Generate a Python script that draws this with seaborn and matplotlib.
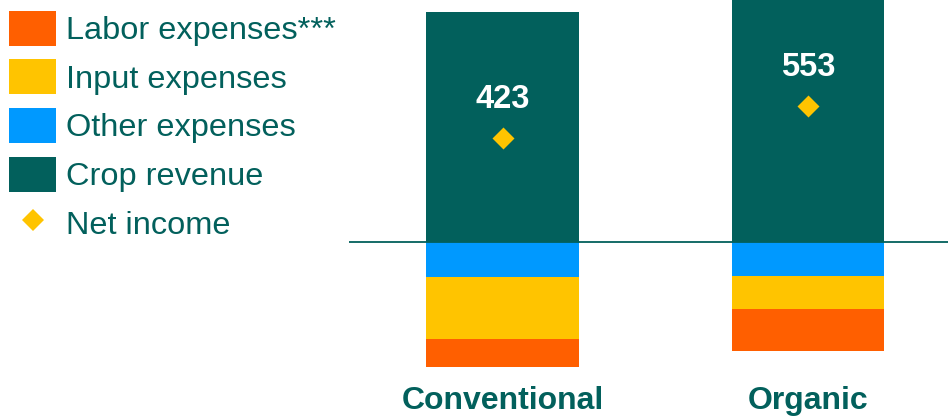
import matplotlib
matplotlib.use("Agg")
import matplotlib.pyplot as plt
import seaborn as sns
import pandas as pd
from matplotlib.patches import Patch
from matplotlib.lines import Line2D

# ---- data ----
categories = ["Conventional", "Organic"]
crop_revenue = [935, 1000]
other_expenses = [144, 139]
input_expenses = [253, 136]
labor_expenses = [115, 172]
net_income = [423, 553]
legend_labels = ["Labor expenses***", "Input expenses", "Other expenses", "Crop revenue", "Net income"]

TEAL = "#02605C"
ORANGE = "#FF5F00"
YELLOW = "#FFC400"
BLUE = "#0099FF"

sns.set_style("white")
plt.rcParams["font.family"] = ["Liberation Sans", "DejaVu Sans"]

df = pd.DataFrame({
    "cat": categories,
    "rev": crop_revenue,
    "other": other_expenses,
    "input": input_expenses,
    "labor": labor_expenses,
    "net": net_income,
})
df["neg_other"] = -df["other"]
df["neg_input"] = -(df["other"] + df["input"])
df["neg_labor"] = -(df["other"] + df["input"] + df["labor"])

fig = plt.figure(figsize=(9.48, 4.17), dpi=100)
ax = fig.add_axes([349 / 948, 39 / 417, 599 / 948, 378 / 417])

common = dict(x="cat", width=0.5, ax=ax, saturation=1, linewidth=0, errorbar=None)
sns.barplot(data=df, y="rev", color=TEAL, **common)
sns.barplot(data=df, y="neg_labor", color=ORANGE, **common)
sns.barplot(data=df, y="neg_input", color=YELLOW, **common)
sns.barplot(data=df, y="neg_other", color=BLUE, **common)
sns.stripplot(data=df, x="cat", y="net", marker="D", size=11.2, jitter=False,
              color=YELLOW, linewidth=0, ax=ax, zorder=5)

for i, v in enumerate(net_income):
    ax.annotate(str(v), xy=(i, v), xytext=(0, 27.5), textcoords="offset points",
                ha="center", va="center", color="white", fontsize=23.5,
                fontweight="bold")

ax.axhline(0, color=TEAL, linewidth=1.3, zorder=6)

upp = 4.075
ax.set_ylim(-(378 - 241.7) * upp, 241.7 * upp)
ax.set_xlim(-0.5025, 1.458)
ax.set_xlabel("")
ax.set_ylabel("")
ax.set_yticks([])
ax.set_xticks([0, 1])
ax.set_xticklabels(categories, fontsize=23, fontweight="bold", color=TEAL)
ax.tick_params(axis="x", length=0, pad=5.5)
for s in ax.spines.values():
    s.set_visible(False)

handles = [
    Patch(facecolor=ORANGE, edgecolor="none"),
    Patch(facecolor=YELLOW, edgecolor="none"),
    Patch(facecolor=BLUE, edgecolor="none"),
    Patch(facecolor=TEAL, edgecolor="none"),
    Line2D([], [], marker="D", linestyle="none", markersize=11.2,
           markerfacecolor=YELLOW, markeredgewidth=0),
]
leg = fig.legend(handles, legend_labels, loc="upper left",
                 bbox_to_anchor=(9 / 948, 1 - 10.5 / 417), frameon=False,
                 fontsize=23.4, handlelength=1.45, handleheight=1.28,
                 handletextpad=0.31, labelspacing=0.41, borderpad=0,
                 borderaxespad=0)
for t in leg.get_texts():
    t.set_color(TEAL)

fig.savefig("out.png", dpi=100)
